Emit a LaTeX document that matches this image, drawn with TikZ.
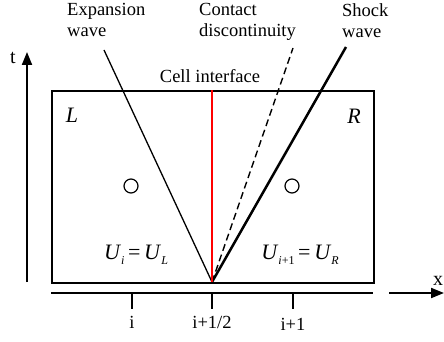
\documentclass[tikz,border=0pt]{standalone}
\usepackage{fontspec}
\setmainfont{Liberation Serif}
\usetikzlibrary{arrows.meta}
\newcommand{\sub}[1]{\raisebox{-5pt}{\fontsize{12}{12}\selectfont\itshape #1}}
\tikzset{
  lbl/.style={font=\fontsize{18.5}{21}\selectfont, inner sep=0pt},
  toplbl/.style={lbl, align=left, anchor=north west},
  box/.style={draw, line width=2pt},
  axis/.style={line width=2.4pt},
  tick/.style={line width=2.2pt},
  arr/.style={line width=2pt, -{Triangle[length=13pt,width=10pt]}},
  ulbl/.style={lbl, font=\fontsize{22}{22}\selectfont},
}
\begin{document}
\begin{tikzpicture}[x=1pt,y=-1pt]
\useasboundingbox (0,0) rectangle (444,342);
% cell box
\node[box, minimum width=322pt, minimum height=192pt, inner sep=0pt, anchor=north west] (cell) at (51,90) {};
\coordinate (o) at (212,282);
\coordinate (top) at (212,90);
\coordinate (expEnd) at (104,50);
\coordinate (conEnd) at (293,48);
\coordinate (shkEnd) at (346,47);
% waves
\draw[line width=1.3pt] (o) -- (expEnd);
\draw[line width=1.4pt, dash pattern=on 7pt off 4pt] (o) -- (conEnd);
\draw[line width=2.5pt] (o) -- (shkEnd);
\draw[red, line width=2pt] (o) -- (top);
% labels
\node[toplbl] (exp) at (67,3) {Expansion\\wave};
\node[toplbl] (con) at (199,3) {Contact\\discontinuity};
\node[toplbl] (shk) at (342,3) {Shock\\wave};
\node[lbl] (ci) at (210,76) {Cell interface};
\node[lbl, font=\fontsize{22}{22}\selectfont\itshape] (L) at (72,115) {L};
\node[lbl, font=\fontsize{22}{22}\selectfont\itshape] (R) at (354,116) {R};
\node[draw, circle, line width=1.2pt, minimum size=14pt, inner sep=0pt] (c1) at (131,186) {};
\node[draw, circle, line width=1.2pt, minimum size=14pt, inner sep=0pt] (c2) at (292,186) {};
\node[ulbl] (ul) at (136,255) {\textit{U}\sub{i}\,=\,\textit{U}\sub{L}};
\node[ulbl] (ur) at (300,255) {\textit{U}\raisebox{-5pt}{\fontsize{12}{12}\selectfont\textit{i}+1}\,=\,\textit{U}\sub{R}};
% t axis
\coordinate (t0) at (27,282);
\coordinate (t1) at (27,52);
\draw[arr] (t0) -- (t1);
\node[lbl, font=\fontsize{20}{20}\selectfont] (t) at (13,58) {t};
% x axis
\coordinate (xa) at (51,293);
\coordinate (xb) at (373,293);
\draw[axis] (xa) -- (xb);
\coordinate (xc) at (389,293);
\coordinate (xd) at (444,293);
\draw[arr] (xc) -- (xd);
\node[lbl, font=\fontsize{20}{20}\selectfont] (x) at (438,281) {x};
% ticks
\foreach \n/\px/\txt/\ty in {a/132/{i}/322, b/212/{i+1/2}/322, c/293/{i+1}/324}{
  \coordinate (tk\n) at (\px,293);
  \coordinate (tke\n) at (\px,309);
  \draw[tick] (tk\n) -- (tke\n);
  \node[lbl] (lab\n) at (\px,\ty) {\txt};
}
\end{tikzpicture}
\end{document}
